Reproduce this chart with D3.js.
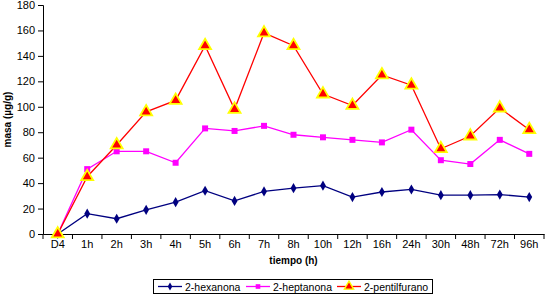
<!DOCTYPE html>
<html>
<head>
<meta charset="utf-8">
<script src="https://cdn.jsdelivr.net/npm/d3@7"></script>
<style>
  body { margin: 0; background: #fff; }
  text { font-family: "Liberation Sans", Arial, sans-serif; }
</style>
</head>
<body>
<div id="chart"></div>
<script>
const categories = ["D4", "1h", "2h", "3h", "4h", "5h", "6h", "7h", "8h", "10h", "12h", "16h", "24h", "30h", "48h", "72h", "96h"]
const hexanona = [0, 16, 12, 19, 25, 34, 26, 33.5, 36, 38, 29, 33, 35, 30.5, 30.5, 31, 29]
const heptanona = [0, 51, 65, 65, 56, 83, 81, 85, 78, 76, 74, 72, 82, 58, 55, 74, 63]
const pentilfurano = [0, 45, 70, 96, 105, 148, 98, 158, 148, 110, 101, 125, 117, 67, 77, 99, 82]
const yTicks = [0, 20, 40, 60, 80, 100, 120, 140, 160, 180]

const series = [
  { name: "2-hexanona", values: hexanona, color: "#000080", marker: "diamond" },
  { name: "2-heptanona", values: heptanona, color: "#ff00ff", marker: "square" },
  { name: "2-pentilfurano", values: pentilfurano, color: "#ff0000", marker: "triangle" }
]

const width = 546, height = 297
const margin = { left: 43, right: 2, top: 5, bottom: 63 }

const svg = d3.select("#chart").append("svg")
  .attr("width", width)
  .attr("height", height)

const x = d3.scaleBand().domain(categories).range([margin.left, width - margin.right])
const y = d3.scaleLinear().domain([0, 180]).range([height - margin.bottom, margin.top])
const cx = d => x(d) + x.bandwidth() / 2

// axes
const yAxis = svg.append("g")
  .attr("transform", `translate(${margin.left},0)`)
  .call(d3.axisLeft(y).tickValues(yTicks).tickSize(5).tickPadding(3))
yAxis.selectAll("text").attr("font-size", 11).attr("fill", "#000")
yAxis.selectAll("line, path").attr("stroke", "#000")

const xAxis = svg.append("g")
  .attr("transform", `translate(0,${y(0)})`)
  .call(d3.axisBottom(x).tickSize(0).tickPadding(6))
xAxis.selectAll("text").attr("font-size", 11).attr("fill", "#000")
xAxis.select("path").attr("stroke", "#000")
// tick marks between categories
const edges = categories.map(c => x(c)).concat([width - margin.right])
xAxis.selectAll(".sep")
  .data(edges)
  .join("line")
  .attr("x1", d => d).attr("x2", d => d)
  .attr("y1", 0).attr("y2", 5)
  .attr("stroke", "#000")

// axis titles
svg.append("text")
  .attr("x", (margin.left + width - margin.right) / 2)
  .attr("y", 264)
  .attr("text-anchor", "middle")
  .attr("font-size", 10)
  .attr("font-weight", "bold")
  .text("tiempo (h)")

svg.append("text")
  .attr("transform", `translate(11,${(y(0) + y(180)) / 2}) rotate(-90)`)
  .attr("text-anchor", "middle")
  .attr("font-size", 10)
  .attr("font-weight", "bold")
  .text("masa (µg/g)")

function drawMarker(g, s, scale) {
  const sizes = { diamond: 30, square: 36, triangle: 62 }
  const types = { diamond: d3.symbolDiamond, square: d3.symbolSquare, triangle: d3.symbolTriangle }
  const p = g.append("path").attr("d", d3.symbol().type(types[s.marker]).size(sizes[s.marker] * scale)())
  if (s.marker === "triangle") p.attr("fill", "#ff0000").attr("stroke", "#ffff00").attr("stroke-width", 1.8 * Math.sqrt(scale))
  else p.attr("fill", s.color)
}

const line = d3.line().x((d, i) => cx(categories[i])).y(d => y(d))

series.forEach(s => {
  svg.append("path")
    .datum(s.values)
    .attr("fill", "none")
    .attr("stroke", s.color)
    .attr("stroke-width", 1.3)
    .attr("d", line)
  s.values.forEach((v, i) => {
    const g = svg.append("g").attr("transform", `translate(${cx(categories[i])},${y(v)})`)
    drawMarker(g, s, 1)
  })
})

// legend
svg.append("rect")
  .attr("x", 153.5).attr("y", 279.5).attr("width", 279).attr("height", 14)
  .attr("fill", "none").attr("stroke", "#000")
const legX = [158, 246, 337]
series.forEach((s, i) => {
  const g = svg.append("g").attr("transform", `translate(${legX[i]},286.5)`)
  g.append("line").attr("x1", 0).attr("x2", 24).attr("stroke", s.color).attr("stroke-width", 1.3)
  const m = g.append("g").attr("transform", "translate(12,0)")
  drawMarker(m, s, 0.6)
  g.append("text").attr("x", 27).attr("y", 4).attr("font-size", 10.5).text(s.name)
})
</script>
</body>
</html>
